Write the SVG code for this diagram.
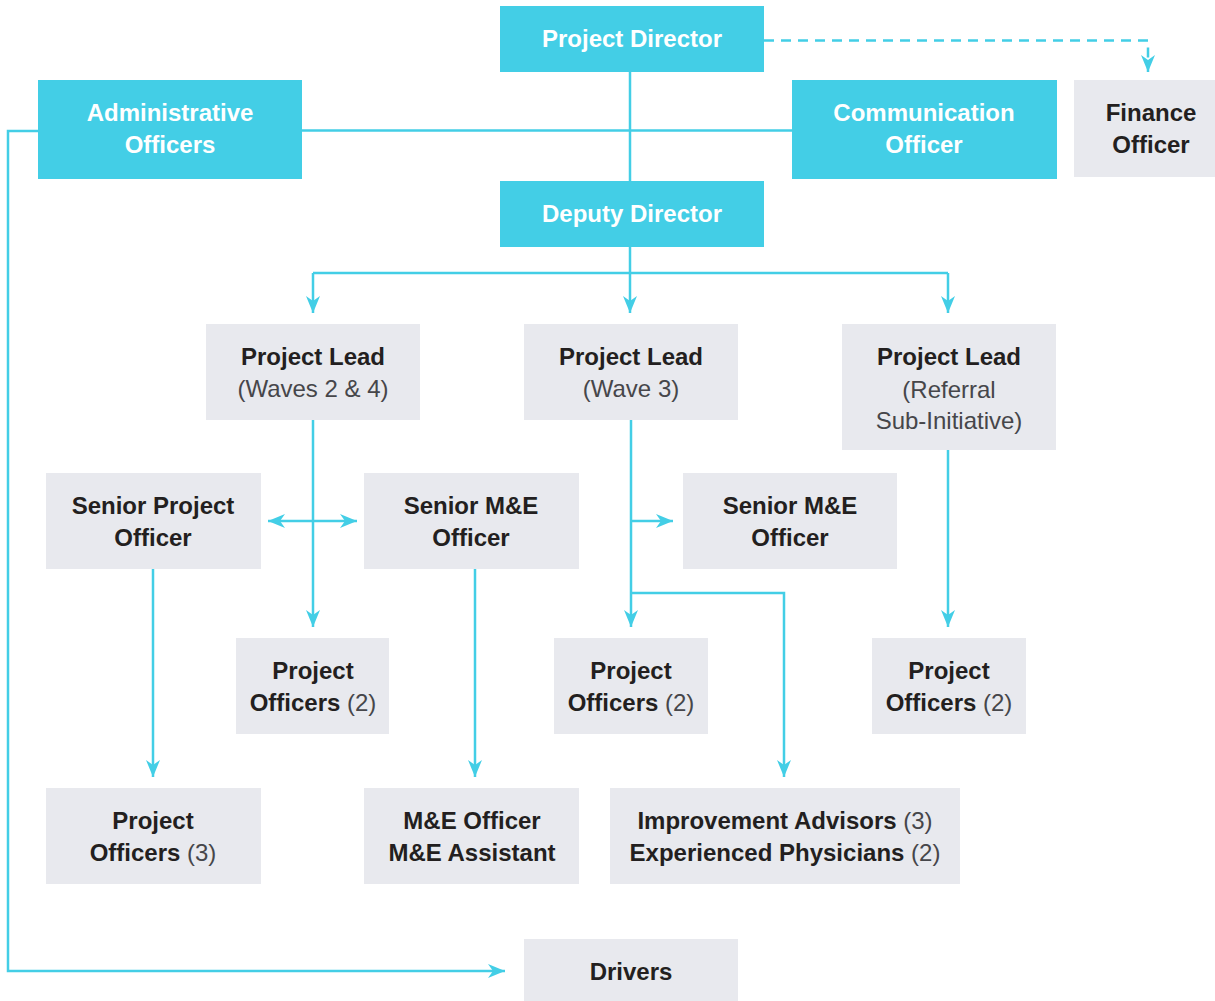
<svg xmlns="http://www.w3.org/2000/svg" width="1215" height="1001" viewBox="0 0 1215 1001">
  <style>
    .hi { fill: #43cee6; }
    .lo { fill: #e8e9ee; }
    text { font-family: "Liberation Sans", Arial, sans-serif; font-size: 24px; text-anchor: middle; }
    .w { fill: #ffffff; font-weight: bold; }
    .d { fill: #231f20; font-weight: bold; }
    .r { fill: #46464a; font-weight: normal; }
    .ln { fill: none; stroke: #43cee6; stroke-width: 2.5; }
    .dash { stroke-dasharray: 10 7; }
  </style>
  <defs>
    <marker id="arrow" markerUnits="userSpaceOnUse" markerWidth="18" markerHeight="16" viewBox="-17 -8 18 16" refX="0" refY="0" orient="auto-start-reverse">
      <path d="M0,0 L-17,-7 L-12,0 L-17,7 Z" fill="#43cee6"/>
    </marker>
  </defs>

  <!-- connectors -->
  <g id="connectors">
    <path class="ln" d="M630,72 V181"/>
    <path class="ln" d="M302,130.5 H792"/>
    <path class="ln dash" d="M764,40.5 H1148 V72" marker-end="url(#arrow)"/>
    <path class="ln" d="M38,131 H8 V971 H505" marker-end="url(#arrow)"/>
    <path class="ln" d="M630,247 V273"/>
    <path class="ln" d="M313,273 H948"/>
    <path class="ln" d="M313,273 V313" marker-end="url(#arrow)"/>
    <path class="ln" d="M630,273 V313" marker-end="url(#arrow)"/>
    <path class="ln" d="M948,273 V313" marker-end="url(#arrow)"/>
    <path class="ln" d="M313,420 V627" marker-end="url(#arrow)"/>
    <path class="ln" d="M268,521 H357" marker-start="url(#arrow)" marker-end="url(#arrow)"/>
    <path class="ln" d="M631,420 V627" marker-end="url(#arrow)"/>
    <path class="ln" d="M631,521 H673" marker-end="url(#arrow)"/>
    <path class="ln" d="M631,593 H784 V777" marker-end="url(#arrow)"/>
    <path class="ln" d="M948,450 V627" marker-end="url(#arrow)"/>
    <path class="ln" d="M153,569 V777" marker-end="url(#arrow)"/>
    <path class="ln" d="M475,569 V777" marker-end="url(#arrow)"/>
  </g>

  <!-- top level -->
  <g id="project-director">
    <rect class="hi" x="500" y="6" width="264" height="66"/>
    <text class="w" x="632" y="47">Project Director</text>
  </g>
  <g id="administrative-officers">
    <rect class="hi" x="38" y="80" width="264" height="99"/>
    <text class="w" x="170" y="121">Administrative</text>
    <text class="w" x="170" y="153">Officers</text>
  </g>
  <g id="communication-officer">
    <rect class="hi" x="792" y="80" width="265" height="99"/>
    <text class="w" x="924" y="121">Communication</text>
    <text class="w" x="924" y="153">Officer</text>
  </g>
  <g id="finance-officer">
    <rect class="lo" x="1074" y="80" width="141" height="97"/>
    <text class="d" x="1151" y="121">Finance</text>
    <text class="d" x="1151" y="153">Officer</text>
  </g>
  <g id="deputy-director">
    <rect class="hi" x="500" y="181" width="264" height="66"/>
    <text class="w" x="632" y="222">Deputy Director</text>
  </g>

  <!-- project leads -->
  <g id="lead-waves-2-4">
    <rect class="lo" x="206" y="324" width="214" height="96"/>
    <text class="d" x="313" y="365">Project Lead</text>
    <text class="r" x="313" y="397">(Waves 2 &amp; 4)</text>
  </g>
  <g id="lead-wave-3">
    <rect class="lo" x="524" y="324" width="214" height="96"/>
    <text class="d" x="631" y="365">Project Lead</text>
    <text class="r" x="631" y="397">(Wave 3)</text>
  </g>
  <g id="lead-referral">
    <rect class="lo" x="842" y="324" width="214" height="126"/>
    <text class="d" x="949" y="365">Project Lead</text>
    <text class="r" x="949" y="398">(Referral</text>
    <text class="r" x="949" y="429">Sub-Initiative)</text>
  </g>

  <!-- senior officers -->
  <g id="senior-project-officer">
    <rect class="lo" x="46" y="473" width="215" height="96"/>
    <text class="d" x="153" y="514">Senior Project</text>
    <text class="d" x="153" y="546">Officer</text>
  </g>
  <g id="senior-me-officer-1">
    <rect class="lo" x="364" y="473" width="215" height="96"/>
    <text class="d" x="471" y="514">Senior M&amp;E</text>
    <text class="d" x="471" y="546">Officer</text>
  </g>
  <g id="senior-me-officer-2">
    <rect class="lo" x="683" y="473" width="214" height="96"/>
    <text class="d" x="790" y="514">Senior M&amp;E</text>
    <text class="d" x="790" y="546">Officer</text>
  </g>

  <!-- project officers -->
  <g id="project-officers-a">
    <rect class="lo" x="236" y="638" width="153" height="96"/>
    <text class="d" x="313" y="679">Project</text>
    <text x="313" y="711"><tspan class="d">Officers</tspan><tspan class="r"> (2)</tspan></text>
  </g>
  <g id="project-officers-b">
    <rect class="lo" x="554" y="638" width="154" height="96"/>
    <text class="d" x="631" y="679">Project</text>
    <text x="631" y="711"><tspan class="d">Officers</tspan><tspan class="r"> (2)</tspan></text>
  </g>
  <g id="project-officers-c">
    <rect class="lo" x="872" y="638" width="154" height="96"/>
    <text class="d" x="949" y="679">Project</text>
    <text x="949" y="711"><tspan class="d">Officers</tspan><tspan class="r"> (2)</tspan></text>
  </g>

  <!-- bottom row -->
  <g id="project-officers-3">
    <rect class="lo" x="46" y="788" width="215" height="96"/>
    <text class="d" x="153" y="829">Project</text>
    <text x="153" y="861"><tspan class="d">Officers</tspan><tspan class="r"> (3)</tspan></text>
  </g>
  <g id="me-officer-assistant">
    <rect class="lo" x="364" y="788" width="215" height="96"/>
    <text class="d" x="472" y="829">M&amp;E Officer</text>
    <text class="d" x="472" y="861">M&amp;E Assistant</text>
  </g>
  <g id="advisors-physicians">
    <rect class="lo" x="610" y="788" width="350" height="96"/>
    <text x="785" y="829"><tspan class="d">Improvement Advisors</tspan><tspan class="r"> (3)</tspan></text>
    <text x="785" y="861"><tspan class="d">Experienced Physicians</tspan><tspan class="r"> (2)</tspan></text>
  </g>

  <g id="drivers">
    <rect class="lo" x="524" y="939" width="214" height="62"/>
    <text class="d" x="631" y="980">Drivers</text>
  </g>
</svg>
